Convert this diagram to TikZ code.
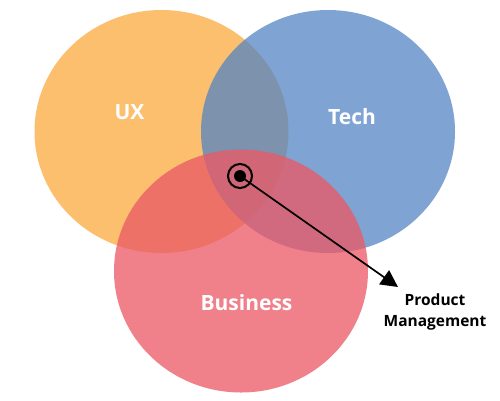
\documentclass[tikz,border=0pt]{standalone}
\usepackage{fontspec}
\setmainfont{Open Sans}
\usetikzlibrary{shapes.geometric,arrows.meta}
\definecolor{uxorange}{RGB}{251,191,110}
\definecolor{techblue}{RGB}{84,132,195}
\definecolor{busred}{RGB}{235,90,102}
\begin{document}
\begin{tikzpicture}[x=1pt, y=-1pt,
    venn/.style={ellipse, inner sep=0pt, minimum width=254pt, minimum height=243pt},
    biglabel/.style={text=white, font=\bfseries\fontsize{21}{25}\selectfont}]
    \useasboundingbox (0,0) rectangle (500,400);
    % the three sets
    \node[venn, fill=uxorange] (ux) at (161.5,131.5) {};
    \node[venn, fill=techblue, fill opacity=0.75] (tech) at (328,131.5) {};
    \node[venn, fill=busred, fill opacity=0.77] (business) at (241,271) {};
    \node[biglabel] (uxlabel) at (129.5,112.5) {UX};
    \node[biglabel] (techlabel) at (352,116.5) {Tech};
    \node[biglabel] (buslabel) at (246.5,303) {Business};

    % the middle
    \node[circle, draw, line width=2pt, minimum size=24pt, inner sep=0pt] (ring) at (240,176) {};
    \node[circle, fill=black, minimum size=12pt, inner sep=0pt] (pm) at (ring.center) {};
    \coordinate (tip) at (398,287);
    \draw[line width=1.7pt, -{Triangle[length=17pt,width=17pt]}] (pm.center) -- (tip);
    \node[font=\bfseries\fontsize{15.5}{21}\selectfont, align=center] (pmlabel) at (435,312) {Product\\Management};
\end{tikzpicture}
\end{document}
